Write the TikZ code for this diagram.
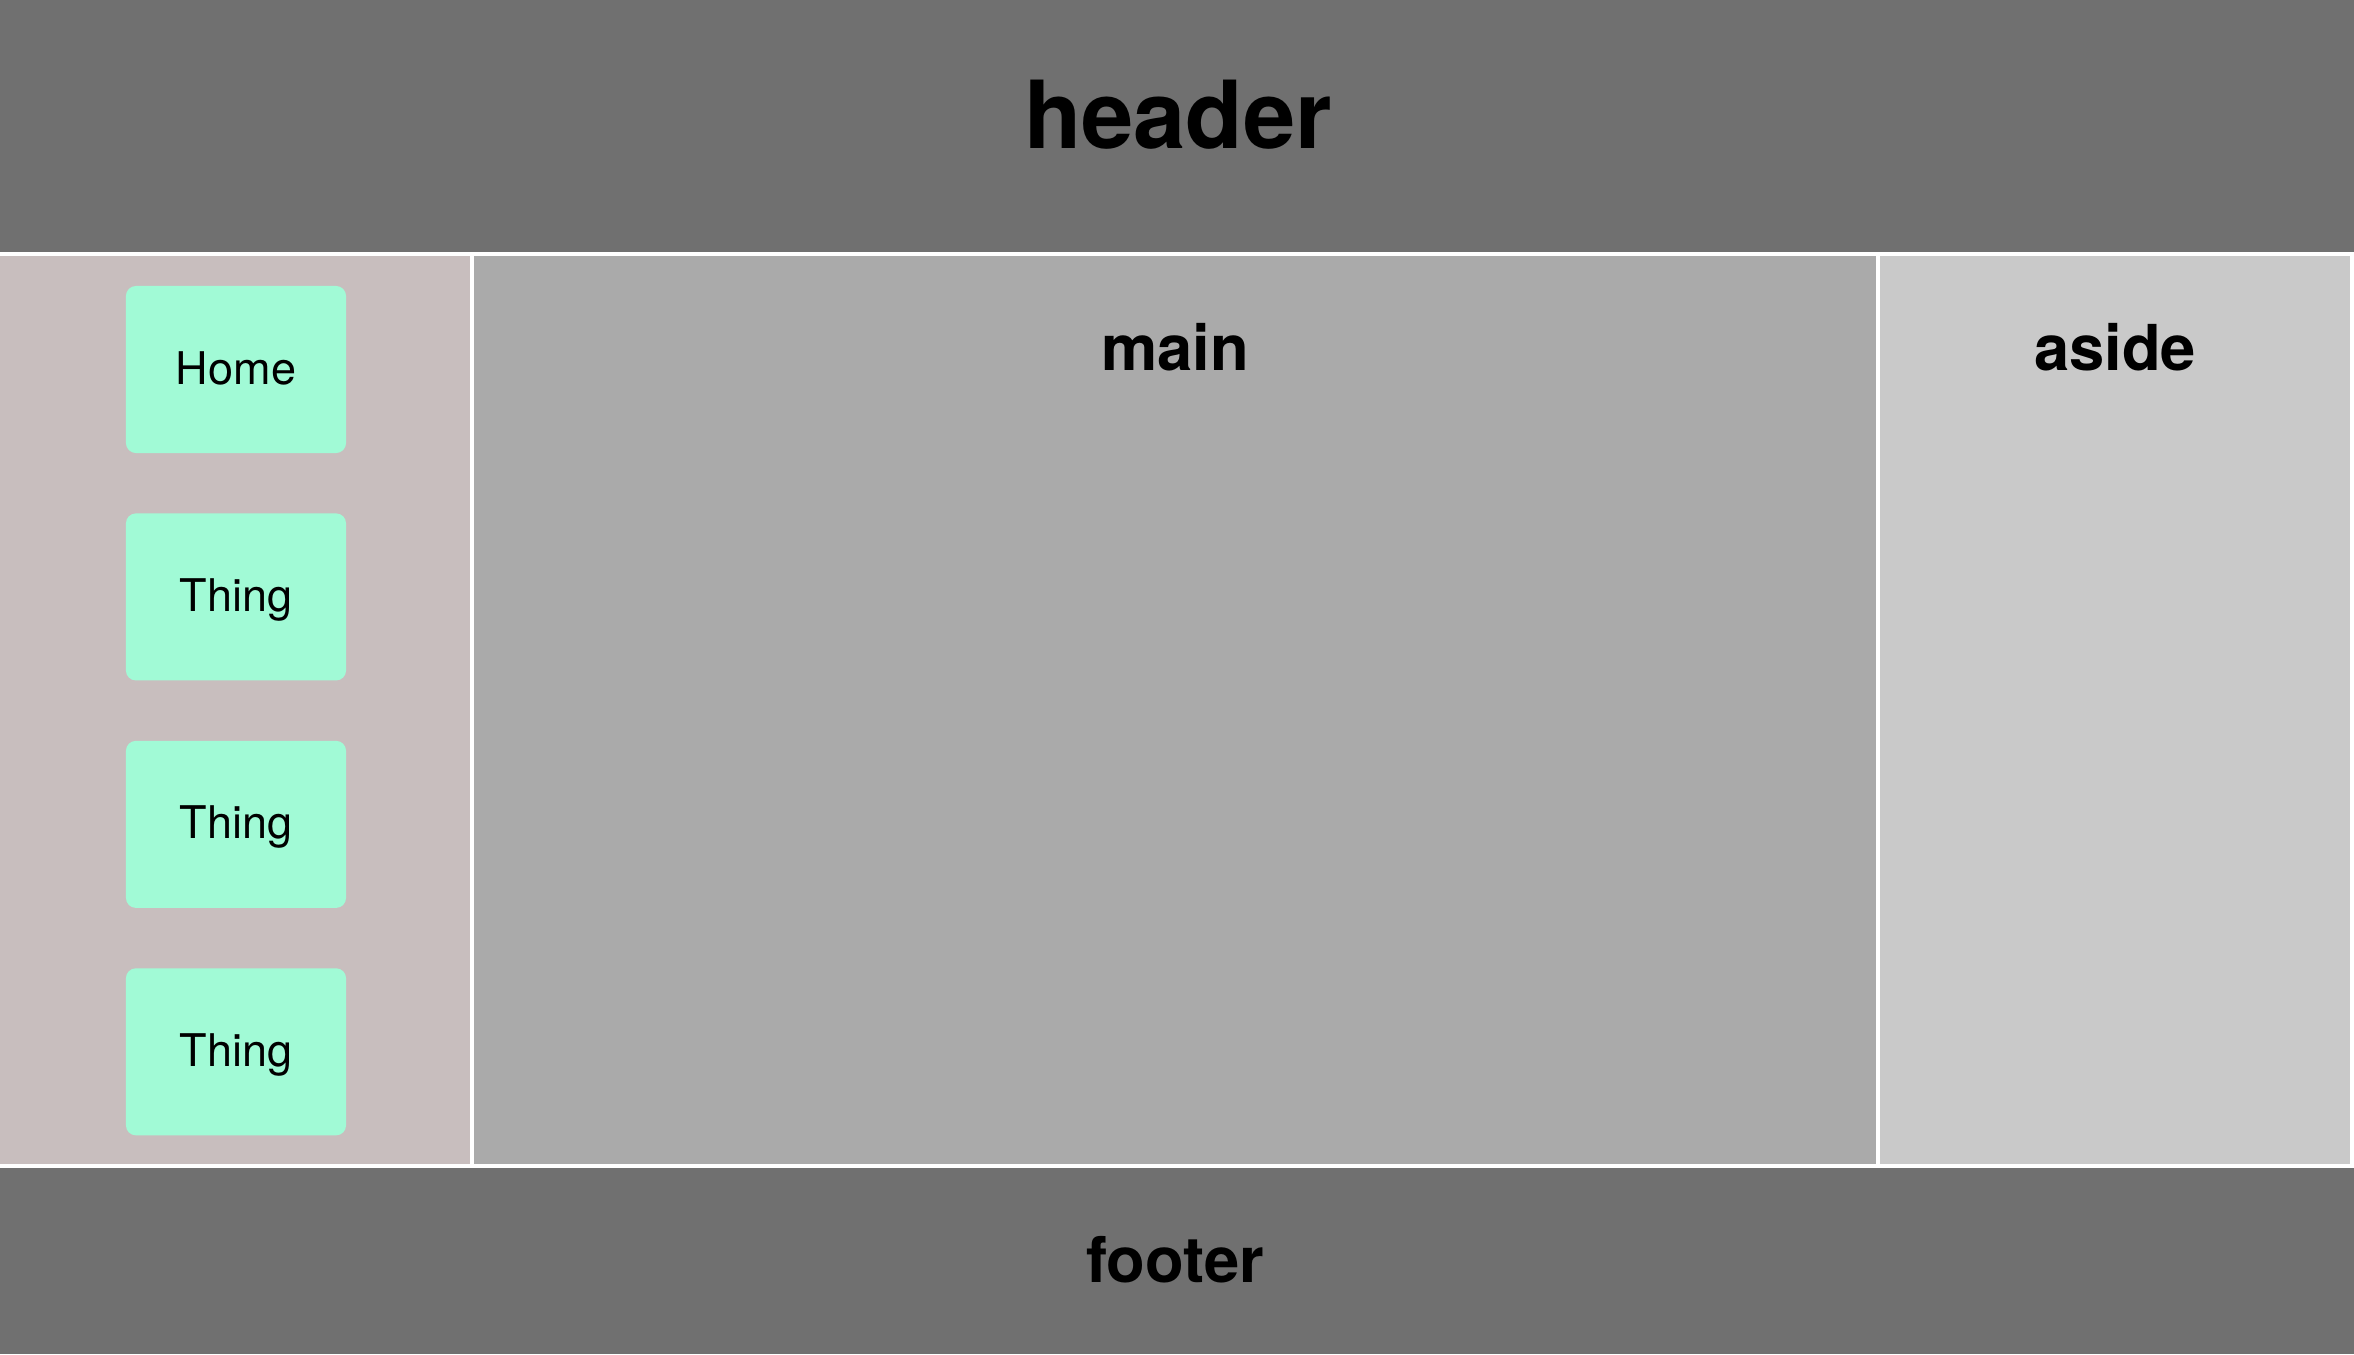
\documentclass[tikz,border=0pt]{standalone}
\usepackage {fontspec}
\setmainfont {TeX Gyre Heros}
\usetikzlibrary {positioning}
\definecolor {bargrey}{RGB}{112,112,112}
\definecolor {navpink}{RGB}{200,190,190}
\definecolor {maingrey}{RGB}{170,170,170}
\definecolor {asidegrey}{RGB}{201,201,201}
\definecolor {btngreen}{RGB}{161,250,214}
\tikzstyle {bigtitle} = [anchor=base, inner sep=0pt, font=\fontsize{26.7}{32}\selectfont\bfseries]
\tikzstyle {title} = [anchor=base, inner sep=0pt, font=\fontsize{18}{22}\selectfont\bfseries]
\tikzstyle {navbtn} = [fill=btngreen, rounded corners=0.1cm, minimum width=2.2cm, minimum height=1.67cm, inner sep=0pt, outer sep=0pt, text height=0.29cm, text depth=0pt, font=\fontsize{12.8}{15}\selectfont]

\begin{document}
\begin{tikzpicture}[x=0.01cm, y=-0.01cm]
      \useasboundingbox (0,0) rectangle (2354,1354);
      \fill [white] (0,0) rectangle (2354,1354);
      \fill [bargrey] (0,0) rectangle (2354,252);
      \fill [navpink] (0,256) rectangle (470,1164);
      \fill [maingrey] (474,256) rectangle (1876,1164);
      \fill [asidegrey] (1880,256) rectangle (2350,1164);
      \fill [bargrey] (0,1168) rectangle (2354,1354);
      \node [bigtitle] (header) at (1178,148) {header};
      \node [title] (main) at (1175,370) {main};
      \node [title] (aside) at (2115,370) {aside};
      \node [title] (footer) at (1175,1282) {footer};
      \node [navbtn] (home) at (236,369.5) {Home};
      \node [navbtn, below=0.603cm of home] (thinga) {Thing};
      \node [navbtn, below=0.603cm of thinga] (thingb) {Thing};
      \node [navbtn, below=0.603cm of thingb] (thingc) {Thing};
    \end{tikzpicture}
\end{document}
